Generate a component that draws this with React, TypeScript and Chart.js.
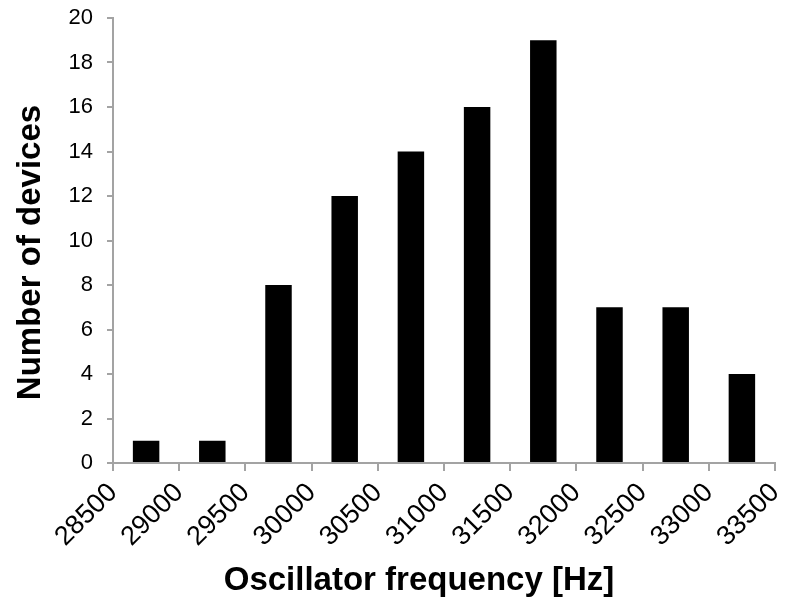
import React, { useEffect, useRef } from "react";
import { Chart, registerables } from "chart.js";

Chart.register(...registerables);

// ---- data ----
const binCenters = [28750, 29250, 29750, 30250, 30750, 31250, 31750, 32250, 32750, 33250];
const deviceCounts = [1, 1, 8, 12, 14, 16, 19, 7, 7, 4];
const xTickValues = [28500, 29000, 29500, 30000, 30500, 31000, 31500, 32000, 32500, 33000, 33500];
const yTickValues = [0, 2, 4, 6, 8, 10, 12, 14, 16, 18, 20];
const xTitle = "Oscillator frequency [Hz]";
const yTitle = "Number of devices";

const FONT = '"Liberation Sans", Arial, Helvetica, sans-serif';
const AXIS_GREY = "#a3a3a3";

const axisTitlesPlugin = {
  id: "axisTitlesCustom",
  afterDraw(chart: any) {
    const { ctx, chartArea } = chart;
    ctx.save();
    ctx.fillStyle = "#000";
    ctx.font = `bold 33px ${FONT}`;
    ctx.textAlign = "center";
    ctx.textBaseline = "middle";
    ctx.fillText(xTitle, chartArea.left + 306, chartArea.bottom + 118);
    ctx.translate(30.5, chartArea.top + 234.5);
    ctx.rotate(-Math.PI / 2);
    ctx.fillText(yTitle, 0, 0);
    ctx.restore();
  },
};

export default function App() {
  const canvasRef = useRef<HTMLCanvasElement | null>(null);

  useEffect(() => {
    if (!canvasRef.current) return;
    const chart = new Chart(canvasRef.current, {
      type: "bar",
      data: {
        datasets: [
          {
            data: binCenters.map((x, i) => ({ x, y: deviceCounts[i] })),
            backgroundColor: "#000000",
            borderWidth: 0,
            barPercentage: 0.4,
            categoryPercentage: 1,
          },
        ],
      },
      options: {
        responsive: false,
        animation: false,
        layout: { padding: { left: 0, right: 10, top: 18, bottom: 0 } },
        plugins: {
          legend: { display: false },
          tooltip: { enabled: false },
        },
        scales: {
          x: {
            type: "linear",
            offset: false,
            min: xTickValues[0],
            max: xTickValues[xTickValues.length - 1],
            afterBuildTicks: (scale: any) => {
              scale.ticks = xTickValues.map((v) => ({ value: v }));
            },
            afterFit: (scale: any) => {
              scale.height = 136;
              scale.paddingLeft = 0;
              scale.paddingRight = 0;
            },
            ticks: {
              autoSkip: false,
              minRotation: 45,
              maxRotation: 45,
              color: "#000",
              padding: 6,
              font: { family: FONT, size: 27 },
              callback: (v: any) => String(v),
            },
            grid: {
              offset: false,
              drawOnChartArea: false,
              drawTicks: true,
              tickLength: 8,
              color: AXIS_GREY,
              lineWidth: 2,
            },
            border: { display: true, color: AXIS_GREY, width: 2 },
          },
          y: {
            min: yTickValues[0],
            max: yTickValues[yTickValues.length - 1],
            afterBuildTicks: (scale: any) => {
              scale.ticks = yTickValues.map((v) => ({ value: v }));
            },
            afterFit: (scale: any) => {
              scale.width = 113;
              scale.paddingTop = 0;
              scale.paddingBottom = 0;
            },
            ticks: {
              color: "#000",
              padding: 14,
              font: { family: FONT, size: 22 },
              callback: (v: any) => String(v),
            },
            grid: {
              drawOnChartArea: false,
              drawTicks: true,
              tickLength: 6,
              color: AXIS_GREY,
              lineWidth: 2,
            },
            border: { display: true, color: AXIS_GREY, width: 2 },
          },
        },
      },
      plugins: [axisTitlesPlugin],
    });
    return () => chart.destroy();
  }, []);

  return (
    <div style={{ position: "absolute", left: 0, top: 0, width: 785, height: 599, background: "#fff" }}>
      <canvas ref={canvasRef} width={785} height={599} style={{ display: "block" }} />
    </div>
  );
}
